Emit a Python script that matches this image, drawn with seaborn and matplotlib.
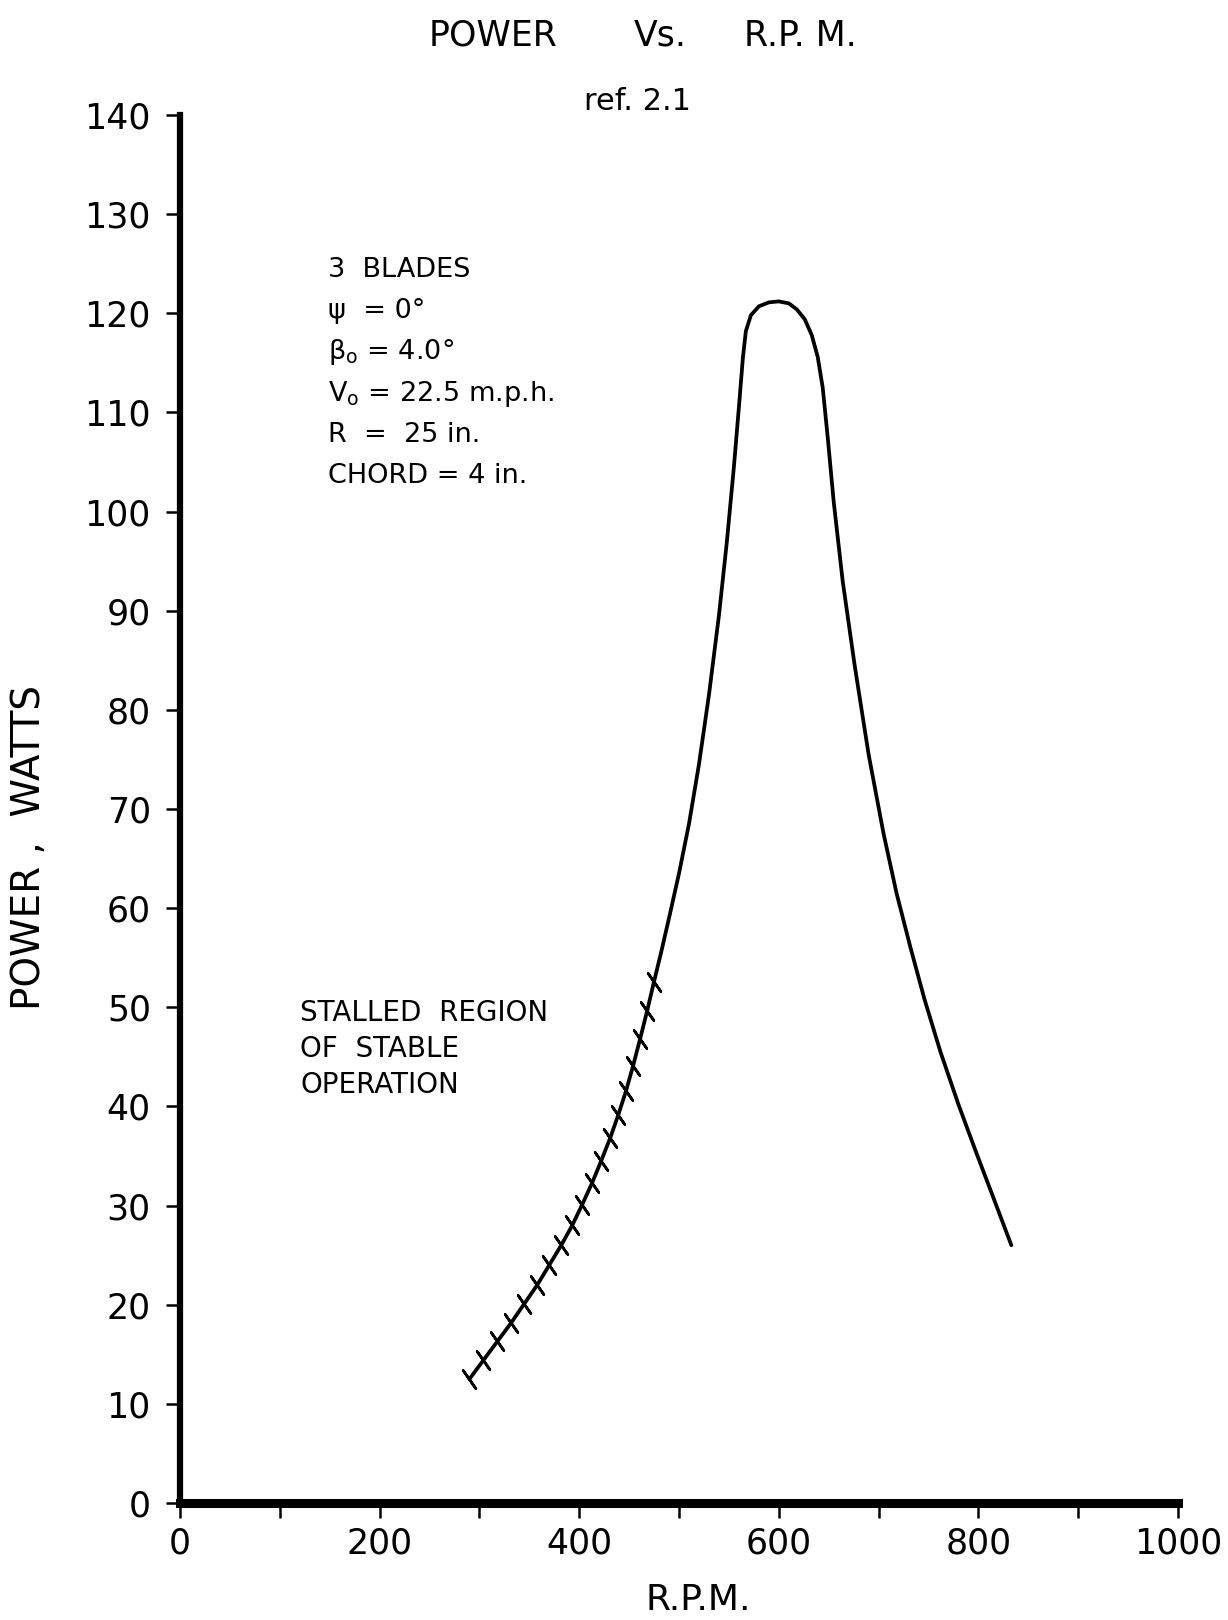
import seaborn as sns
import matplotlib.pyplot as plt
import pandas as pd

W, H = 1228, 1620

# stalled (hatched) part of the curve
stall_rpm = [290, 304, 318, 332, 345, 358, 370, 382, 393, 403, 413, 422, 431, 439, 447, 454, 461, 468, 475]
stall_watts = [12.5, 14.4, 16.3, 18.2, 20.1, 22.0, 24.0, 26.0, 28.0, 30.1, 32.3, 34.5, 36.8, 39.1, 41.6, 44.1, 46.8, 49.6, 52.6]

# rest of the power curve
curve_rpm = [482, 490, 500, 510, 520, 530, 540, 548, 555, 560, 564, 567, 572, 580, 590, 600,
             610, 618, 626, 633, 639, 644, 649, 655, 664, 676, 690, 705, 718, 732, 746, 762,
             780, 798, 815, 833]
curve_watts = [55.5, 59.0, 63.5, 68.5, 74.5, 81.5, 89.5, 97.0, 104.5, 110.5, 115.5, 118.2, 119.8, 120.7, 121.1, 121.2,
               121.0, 120.4, 119.4, 117.8, 115.6, 112.5, 107.5, 101.0, 93.0, 84.5, 75.5, 67.5, 61.5, 56.0, 50.8, 45.5,
               40.2, 35.3, 30.8, 26.0]

x_ticks = list(range(0, 1001, 100))
x_labels = [str(v) if v % 200 == 0 else "" for v in x_ticks]
y_ticks = list(range(0, 141, 10))

info_lines = ["3  BLADES", "ψ  = 0°", r"β$_\mathrm{o}$ = 4.0°", r"V$_\mathrm{o}$ = 22.5 m.p.h.", "R  =  25 in.", "CHORD = 4 in."]
stall_lines = ["STALLED  REGION", "OF  STABLE", "OPERATION"]

stall = pd.DataFrame({"rpm": stall_rpm, "watts": stall_watts})
curve = pd.concat([stall, pd.DataFrame({"rpm": curve_rpm, "watts": curve_watts})], ignore_index=True)

sns.set_style("ticks")
plt.rcParams["font.family"] = ["DejaVu Sans"]
plt.rcParams["mathtext.fontset"] = "dejavusans"
plt.rcParams["text.color"] = "black"
plt.rcParams["axes.labelcolor"] = "black"
plt.rcParams["xtick.color"] = "black"
plt.rcParams["ytick.color"] = "black"


def fx(px):
    return px / W


def fy(py):
    return 1 - py / H


fig = plt.figure(figsize=(W / 100, H / 100), dpi=100)
ax = fig.add_axes([fx(180), fy(1503), 998 / W, 1388 / H])

sns.lineplot(data=curve, x="rpm", y="watts", sort=False, color="black", linewidth=2.7, ax=ax)
sns.scatterplot(data=stall, x="rpm", y="watts", marker=(2, 2, 35), s=250,
                color="black", linewidth=1.9, ax=ax)

ax.set_xlim(0, 1000)
ax.set_ylim(0, 140)
ax.set_xticks(x_ticks)
ax.set_xticklabels(x_labels)
ax.set_yticks(y_ticks)
ax.set_xlabel("")
ax.set_ylabel("")

sns.despine(ax=ax)
ax.spines["left"].set_linewidth(4.5)
ax.spines["bottom"].set_linewidth(6.5)
for s in ("left", "bottom"):
    ax.spines[s].set_color("black")
    ax.spines[s].set_capstyle("projecting")

ax.tick_params(axis="x", length=11, width=1.8, pad=6, labelsize=25, colors="black")
ax.tick_params(axis="y", length=10, width=1.8, pad=11, labelsize=25, colors="black")

# axis titles
fig.text(fx(698), fy(1600), "R.P.M.", fontsize=26, ha="center", va="center")
fig.text(fx(29), fy(848), "POWER ,  WATTS", fontsize=28, rotation=90, ha="center", va="center")

# heading
fig.text(fx(493), fy(46), "POWER", fontsize=25, ha="center", va="baseline")
fig.text(fx(660), fy(46), "Vs.", fontsize=25, ha="center", va="baseline")
fig.text(fx(800), fy(46), "R.P. M.", fontsize=25, ha="center", va="baseline")
fig.text(fx(637), fy(110), "ref. 2.1", fontsize=22, ha="center", va="baseline")

# test conditions
for i, line in enumerate(info_lines):
    fig.text(fx(328), fy(277 + i * 41.2), line, fontsize=19.5, ha="left", va="baseline")

for i, line in enumerate(stall_lines):
    fig.text(fx(300), fy(1021 + i * 36), line, fontsize=20, ha="left", va="baseline")

fig.savefig("out.png", dpi=100, facecolor="white")
